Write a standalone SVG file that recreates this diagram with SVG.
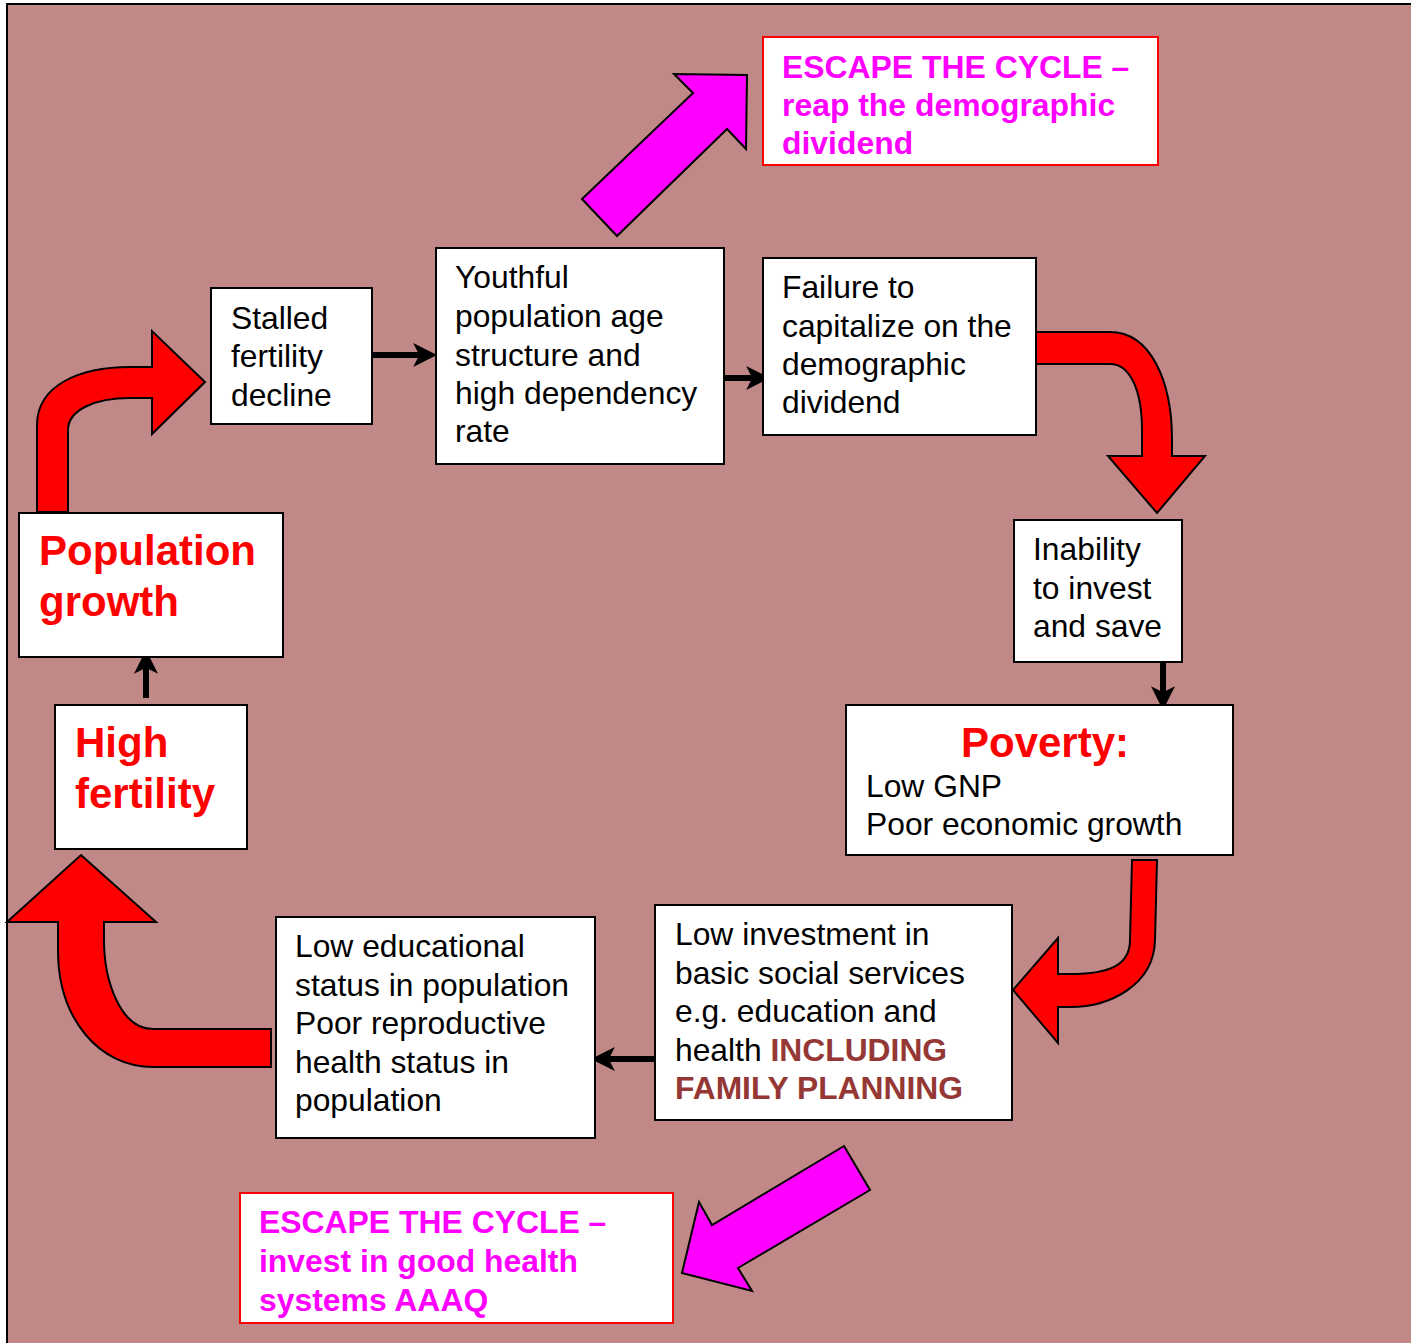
<svg xmlns="http://www.w3.org/2000/svg" width="1411" height="1343" viewBox="0 0 1411 1343">
<defs>
<style>
.box{fill:#fff;stroke:#000;stroke-width:2}
.esc{fill:#fff;stroke:#f00;stroke-width:2}
.t{font-family:"Liberation Sans",Arial,sans-serif;font-size:31.8px;fill:#000}
.big{font-family:"Liberation Sans",Arial,sans-serif;font-size:42px;font-weight:bold;fill:#f00}
.mag{font-family:"Liberation Sans",Arial,sans-serif;font-size:31.9px;font-weight:bold;fill:#f0f}
.br{font-weight:bold;fill:#953735}
.red{fill:#f00;stroke:#000;stroke-width:2;stroke-linejoin:miter}
.pink{fill:#f0f;stroke:#000;stroke-width:2}
.blk{stroke:#000;stroke-width:6;fill:none}
</style>
<marker id="ah" viewBox="0 0 20 20" markerWidth="24" markerHeight="24" refX="9" refY="10" orient="auto" markerUnits="userSpaceOnUse">
<path d="M0,0 L20,10 L0,20 L5,10 Z" fill="#000"/>
</marker>
</defs>
<rect x="7" y="4" width="1420" height="1350" fill="#c08886" stroke="#000" stroke-width="2"/>

<g id="connectors">
<path class="red" d="M37,512 L37,425 C37,385 80,367 130,367 L152,367 L152,331 L205,382 L152,434 L152,398 L130,398 C95,398 68,410 68,430 L68,512 Z"/>
<path class="red" d="M1036,332 L1110,332 C1150,332 1172,380 1172,440 L1172,456 L1205,456 L1157,513 L1108,456 L1142,456 L1142,430 C1142,390 1130,364 1110,364 L1036,364 Z"/>
<path class="red" d="M1132,860 L1157,860 L1155,940 C1154,985 1110,1007 1070,1007 L1058,1007 L1058,1043 L1013,990 L1058,938 L1058,974 L1070,974 C1110,974 1130,965 1130,940 Z"/>
<path class="red" d="M271,1029 L153,1029 C120,1029 104,980 104,940 L104,922 L156,922 L81,855 L7,922 L58,922 L58,950 C58,1020 100,1067 153,1067 L271,1067 Z"/>
<path class="pink" d="M582,199 L693,93 L674,74 L747,75 L746,149 L727,129 L617,236 Z"/>
<path class="pink" d="M844,1146 L870,1190 L738,1268 L752,1291 L682,1273 L699,1202 L712,1225 Z"/>
<line class="blk" x1="372" y1="355" x2="424" y2="355" marker-end="url(#ah)"/>
<line class="blk" x1="724" y1="378" x2="757" y2="378" marker-end="url(#ah)"/>
<line class="blk" x1="1163" y1="663" x2="1163" y2="697" marker-end="url(#ah)"/>
<line class="blk" x1="146" y1="698" x2="146" y2="663" marker-end="url(#ah)"/>
<line class="blk" x1="655" y1="1059" x2="604" y2="1059" marker-end="url(#ah)"/>
</g>

<g id="escape-top">
<rect class="esc" x="763" y="37" width="395" height="128"/>
<text class="mag" x="782" y="78">ESCAPE THE CYCLE –</text>
<text class="mag" x="782" y="116">reap the demographic</text>
<text class="mag" x="782" y="154">dividend</text>
</g>

<g id="stalled">
<rect class="box" x="211" y="288" width="161" height="136"/>
<text class="t" x="231" y="329">Stalled</text>
<text class="t" x="231" y="367">fertility</text>
<text class="t" x="231" y="406">decline</text>
</g>

<g id="youthful">
<rect class="box" x="436" y="248" width="288" height="216"/>
<text class="t" x="455" y="288">Youthful</text>
<text class="t" x="455" y="327">population age</text>
<text class="t" x="455" y="366">structure and</text>
<text class="t" x="455" y="404">high dependency</text>
<text class="t" x="455" y="442">rate</text>
</g>

<g id="failure">
<rect class="box" x="763" y="258" width="273" height="177"/>
<text class="t" x="782" y="298">Failure to</text>
<text class="t" x="782" y="337">capitalize on the</text>
<text class="t" x="782" y="375">demographic</text>
<text class="t" x="782" y="413">dividend</text>
</g>

<g id="inability">
<rect class="box" x="1014" y="520" width="168" height="142"/>
<text class="t" x="1033" y="560">Inability</text>
<text class="t" x="1033" y="599">to invest</text>
<text class="t" x="1033" y="637">and save</text>
</g>

<g id="poverty">
<rect class="box" x="846" y="705" width="387" height="150"/>
<text class="big" x="1045" y="757" text-anchor="middle">Poverty:</text>
<text class="t" x="866" y="797">Low GNP</text>
<text class="t" x="866" y="835">Poor economic growth</text>
</g>

<g id="population-growth">
<rect class="box" x="19" y="513" width="264" height="144"/>
<text class="big" x="39" y="565">Population</text>
<text class="big" x="39" y="616">growth</text>
</g>

<g id="high-fertility">
<rect class="box" x="55" y="705" width="192" height="144"/>
<text class="big" x="75" y="757">High</text>
<text class="big" x="75" y="808">fertility</text>
</g>

<g id="low-educational">
<rect class="box" x="276" y="917" width="319" height="221"/>
<text class="t" x="295" y="957">Low educational</text>
<text class="t" x="295" y="996">status in population</text>
<text class="t" x="295" y="1034">Poor reproductive</text>
<text class="t" x="295" y="1073">health status in</text>
<text class="t" x="295" y="1111">population</text>
</g>

<g id="low-investment">
<rect class="box" x="655" y="905" width="357" height="215"/>
<text class="t" x="675" y="945">Low investment in</text>
<text class="t" x="675" y="984">basic social services</text>
<text class="t" x="675" y="1022">e.g. education and</text>
<text class="t" x="675" y="1061">health <tspan class="br">INCLUDING</tspan></text>
<text class="t br" x="675" y="1099">FAMILY PLANNING</text>
</g>

<g id="escape-bottom">
<rect class="esc" x="240" y="1193" width="433" height="130"/>
<text class="mag" x="259" y="1233">ESCAPE THE CYCLE –</text>
<text class="mag" x="259" y="1272">invest in good health</text>
<text class="mag" x="259" y="1311">systems AAAQ</text>
</g>
</svg>
